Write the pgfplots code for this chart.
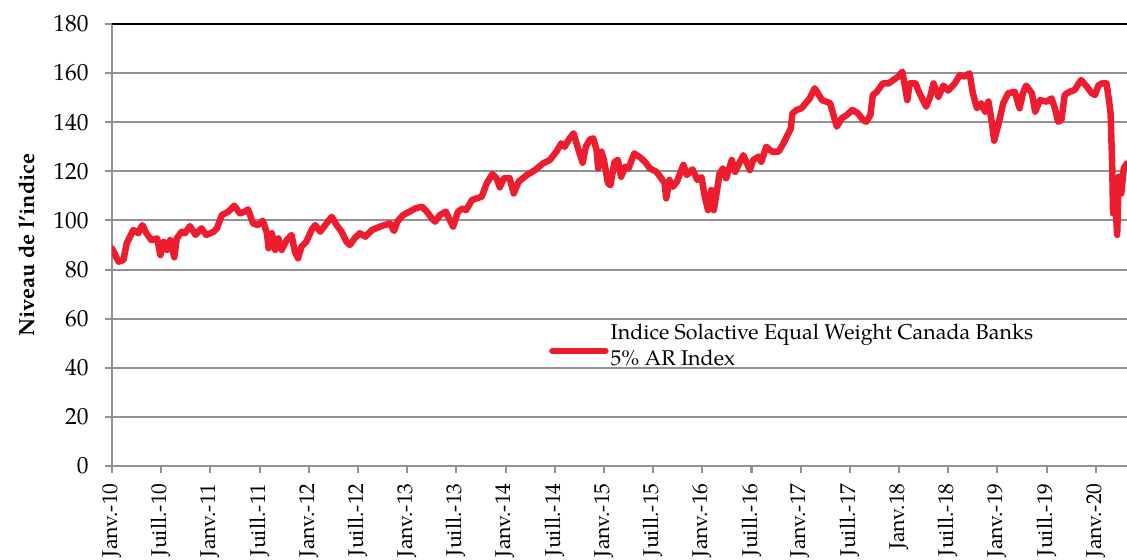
\documentclass[border=0pt]{standalone}
\usepackage{fontspec}
\setmainfont{TeX Gyre Pagella}
\usepackage{pgfplots}
\pgfplotsset{compat=1.18}
\usepackage{pgfplotstable}
\definecolor{lred}{RGB}{237,28,46}
\definecolor{gridgray}{RGB}{145,145,145}
\pgfplotstableread{
m v
0.0 88.6
0.8 83.2
1.4 83.9
1.8 90.7
2.6 96.1
3.2 94.8
3.7 98.1
4.2 94.8
4.8 92.0
5.5 92.7
5.9 85.9
6.3 91.3
6.7 88.0
7.1 92.0
7.6 85.0
7.9 92.7
8.5 95.4
8.9 94.8
9.5 97.7
10.2 94.1
10.9 96.8
11.5 94.1
12.4 95.4
12.8 96.8
13.4 102.2
14.2 103.6
14.9 106.0
15.6 102.9
16.2 103.6
16.6 104.5
17.2 98.8
17.8 98.1
18.4 99.9
18.9 94.8
19.1 88.7
19.5 94.8
19.9 88.0
20.3 92.7
20.7 88.0
21.3 92.0
21.9 94.1
22.3 87.3
22.7 84.6
23.1 89.3
23.7 91.3
24.4 96.5
24.8 98.1
25.4 95.4
26.0 98.1
26.8 101.5
27.4 98.1
28.0 95.4
28.6 91.3
29.0 90.0
29.6 92.7
30.2 94.8
30.9 93.4
31.7 96.1
32.7 97.5
33.9 98.8
34.4 95.7
34.8 99.5
35.5 102.2
36.3 103.6
37.0 104.9
37.8 105.6
38.4 103.6
39.0 100.9
39.4 99.5
40.0 102.2
40.7 103.6
41.2 100.2
41.6 97.5
42.2 103.6
42.8 104.9
43.2 104.2
43.9 108.3
44.5 109.0
45.1 109.7
45.7 115.1
46.4 118.9
46.9 117.2
47.3 113.5
47.8 117.2
48.5 117.2
49.0 111.0
49.6 115.8
50.6 118.5
51.6 120.5
52.6 123.3
53.4 124.6
54.2 128.0
54.8 131.4
55.2 130.0
55.8 133.4
56.3 135.5
56.9 128.7
57.4 123.5
57.8 130.0
58.3 133.0
58.7 133.4
59.1 128.7
59.3 121.2
59.7 128.0
60.0 124.6
60.5 115.1
60.8 114.4
61.3 123.9
61.7 124.6
62.1 117.8
62.6 121.9
63.0 121.2
63.7 127.3
64.4 125.7
65.0 123.9
65.6 121.2
66.4 119.8
67.0 117.2
67.4 115.1
67.6 109.0
68.0 116.5
68.4 113.7
68.9 115.8
69.7 122.6
70.1 118.5
70.8 120.8
71.4 116.5
71.9 117.6
72.3 109.7
72.7 104.2
73.1 112.4
73.4 104.2
73.8 112.4
74.1 119.0
74.5 121.2
74.9 117.2
75.6 124.6
76.0 119.8
77.0 126.6
77.8 120.5
78.2 124.6
78.9 126.0
79.2 123.9
79.8 130.0
80.5 128.0
81.3 128.0
81.9 131.4
82.4 134.8
82.8 137.5
83.0 143.6
83.5 145.0
84.1 145.7
84.6 147.7
85.1 149.7
85.7 153.8
86.1 151.8
86.6 149.0
87.1 148.4
87.6 147.7
88.0 142.9
88.4 138.2
89.0 141.6
89.6 142.9
90.3 145.0
91.0 143.6
91.6 140.9
92.0 140.2
92.5 142.9
92.8 151.1
93.3 152.4
94.0 155.8
94.7 155.8
95.3 157.2
95.9 158.6
96.4 160.6
97.0 149.0
97.3 155.8
98.0 155.8
98.5 151.8
99.3 146.3
99.8 150.4
100.2 155.8
100.8 150.4
101.4 154.9
102.0 152.9
102.8 155.8
103.4 159.2
104.0 158.6
104.6 159.9
105.0 151.8
105.5 145.7
106.0 147.7
106.5 144.3
106.9 148.4
107.3 140.2
107.6 132.5
108.1 138.9
108.7 147.7
109.3 151.8
110.1 152.4
110.7 145.7
111.1 151.8
111.5 154.9
112.2 151.8
112.6 144.3
113.2 149.0
114.0 148.4
114.6 149.7
115.0 145.7
115.4 140.2
115.8 140.9
116.2 151.1
116.8 152.4
117.4 153.1
118.2 157.2
118.9 154.5
119.5 151.8
119.9 151.1
120.3 154.9
120.7 155.8
121.3 155.8
121.6 149.0
121.8 143.6
122.0 121.9
122.1 102.9
122.3 112.4
122.6 94.1
122.8 117.8
123.1 111.0
123.4 121.2
123.8 123.3
124.2 121.0
}\datatable
\begin{document}
\begin{tikzpicture}
\path[use as bounding box] (-112bp,-94bp) rectangle (1015bp,466bp);
\begin{axis}[
  at={(0,0)}, anchor=south west,
  scale only axis, width=1015bp, height=442bp,
  xmin=0, xmax=123.8, ymin=0, ymax=180,
  axis lines=left,
  axis line style={-, draw=gridgray, line width=2bp},
  ytick={0,20,...,160},
  extra y ticks={180},
  extra y tick style={grid style={draw=black, line width=2bp}},
  ymajorgrids,
  grid style={draw=gridgray, line width=2bp},
  xtick={0,6,...,120},
  xticklabels={Janv.-10,Juill.-10,Janv.-11,Juill.-11,Janv.-12,Juill.-12,Janv.-13,Juill.-13,Janv.-14,Juill.-14,Janv.-15,Juill.-15,Janv.-16,Juill.-16,Janv.-17,Juill.-17,Janv.18,Juill.-18,Janv.-19,Juill.-19,Janv.-20},
  tick align=outside,
  major tick length=7bp,
  tick style={draw=gridgray, line width=2bp},
  yticklabel style={font=\fontsize{23.5}{27}\selectfont, anchor=east, xshift=-13bp},
  /pgf/number format/assume math mode=true,
  xticklabel style={font=\fontsize{21.5}{25}\selectfont, yshift=-7bp, rotate=90, anchor=east},
  ylabel={Niveau de l’indice},
  ylabel style={at={(axis description cs:-0.0837,0.5)}, anchor=center, font=\fontsize{22}{26}\selectfont\bfseries},
  legend style={draw=none, fill=none, at={(axis description cs:0.4305,0.2919)}, anchor=west, inner sep=0pt, font=\fontsize{21.5}{27}\selectfont},
  legend cell align=left,
  legend image code/.code={\draw[#1] (0bp,-14bp) -- (53bp,-14bp);},
]
\addplot[lred, line width=6.5bp, line join=round, line cap=round] table[x=m, y=v] {\datatable};
\addlegendentry{\begin{tabular}{@{}l@{}}Indice Solactive Equal Weight Canada Banks\\5\% AR Index\end{tabular}}
\end{axis}
\end{tikzpicture}
\end{document}
